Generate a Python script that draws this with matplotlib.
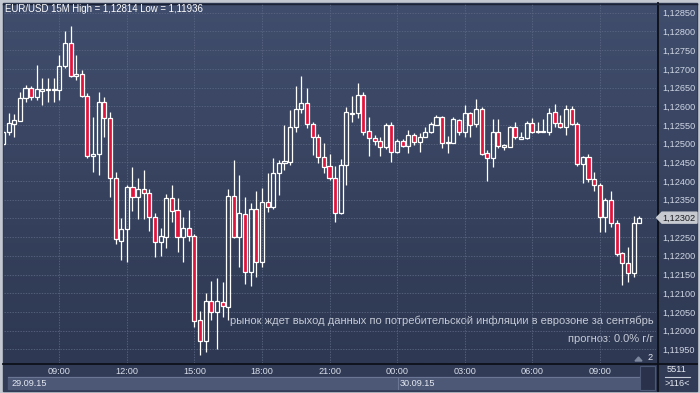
import numpy as np
import matplotlib
matplotlib.use("Agg")
import matplotlib.pyplot as plt
from matplotlib.patches import Rectangle, Polygon

# 15-minute candles, index 0 = 09:00 on 29.09.15
start_idx = -10
opens = [
    1.12498, 1.12530, 1.12552, 1.12561, 1.12621, 1.12648, 1.12624, 1.12642, 1.12643, 1.12644,
    1.12643, 1.12708, 1.12768, 1.12681, 1.12686, 1.12628, 1.12467, 1.12471, 1.12611, 1.12569,
    1.12407, 1.12240, 1.12271, 1.12383, 1.12358, 1.12379, 1.12367, 1.12303, 1.12236, 1.12251,
    1.12354, 1.12322, 1.12249, 1.12274, 1.12252, 1.12028, 1.11973, 1.12080, 1.12049, 1.12077,
    1.12064, 1.12360, 1.12249, 1.12311, 1.12156, 1.12324, 1.12183, 1.12343, 1.12330, 1.12422,
    1.12447, 1.12452, 1.12544, 1.12593, 1.12608, 1.12552, 1.12517, 1.12463, 1.12440, 1.12407,
    1.12314, 1.12443, 1.12580, 1.12581, 1.12629, 1.12535, 1.12514, 1.12508, 1.12492, 1.12550,
    1.12478, 1.12508, 1.12494, 1.12523, 1.12505, 1.12517, 1.12532, 1.12550, 1.12572, 1.12505,
    1.12501, 1.12563, 1.12532, 1.12581, 1.12552, 1.12592, 1.12474, 1.12461, 1.12532, 1.12490,
    1.12490, 1.12544, 1.12513, 1.12514, 1.12554, 1.12534, 1.12532, 1.12532, 1.12585, 1.12554,
    1.12544, 1.12592, 1.12552, 1.12445, 1.12463, 1.12405, 1.12389, 1.12303, 1.12349, 1.12289,
    1.12207, 1.12180, 1.12155, 1.12287,
]
closes = [
    1.12530, 1.12554, 1.12563, 1.12621, 1.12648, 1.12624, 1.12645, 1.12645, 1.12644, 1.12643,
    1.12708, 1.12768, 1.12681, 1.12686, 1.12628, 1.12467, 1.12472, 1.12611, 1.12568, 1.12407,
    1.12244, 1.12271, 1.12383, 1.12358, 1.12379, 1.12367, 1.12303, 1.12236, 1.12252, 1.12354,
    1.12321, 1.12249, 1.12274, 1.12253, 1.12026, 1.11973, 1.12080, 1.12049, 1.12079, 1.12067,
    1.12360, 1.12249, 1.12314, 1.12156, 1.12324, 1.12184, 1.12343, 1.12330, 1.12422, 1.12447,
    1.12453, 1.12544, 1.12593, 1.12608, 1.12552, 1.12517, 1.12463, 1.12438, 1.12407, 1.12314,
    1.12443, 1.12585, 1.12583, 1.12630, 1.12532, 1.12514, 1.12508, 1.12492, 1.12550, 1.12478,
    1.12508, 1.12494, 1.12523, 1.12505, 1.12517, 1.12532, 1.12552, 1.12572, 1.12502, 1.12501,
    1.12565, 1.12532, 1.12581, 1.12550, 1.12592, 1.12471, 1.12461, 1.12532, 1.12494, 1.12496,
    1.12544, 1.12517, 1.12517, 1.12554, 1.12532, 1.12531, 1.12534, 1.12583, 1.12554, 1.12544,
    1.12592, 1.12552, 1.12445, 1.12463, 1.12405, 1.12389, 1.12303, 1.12349, 1.12289, 1.12204,
    1.12180, 1.12155, 1.12287, 1.12302,
]
highs = [
    1.12536, 1.12581, 1.12579, 1.12639, 1.12657, 1.12654, 1.12710, 1.12675, 1.12675, 1.12675,
    1.12737, 1.12801, 1.12814, 1.12737, 1.12697, 1.12635, 1.12572, 1.12639, 1.12625, 1.12585,
    1.12425, 1.12302, 1.12389, 1.12438, 1.12407, 1.12429, 1.12379, 1.12314, 1.12275, 1.12365,
    1.12389, 1.12354, 1.12303, 1.12322, 1.12258, 1.12052, 1.12101, 1.12133, 1.12140, 1.12131,
    1.12379, 1.12456, 1.12416, 1.12358, 1.12340, 1.12374, 1.12381, 1.12422, 1.12461, 1.12456,
    1.12550, 1.12590, 1.12654, 1.12681, 1.12649, 1.12559, 1.12526, 1.12502, 1.12472, 1.12440,
    1.12458, 1.12599, 1.12627, 1.12663, 1.12638, 1.12572, 1.12523, 1.12518, 1.12556, 1.12559,
    1.12512, 1.12512, 1.12536, 1.12529, 1.12528, 1.12545, 1.12559, 1.12577, 1.12574, 1.12520,
    1.12572, 1.12566, 1.12603, 1.12585, 1.12619, 1.12598, 1.12483, 1.12565, 1.12565, 1.12499,
    1.12547, 1.12559, 1.12532, 1.12560, 1.12568, 1.12559, 1.12566, 1.12594, 1.12606, 1.12577,
    1.12603, 1.12601, 1.12558, 1.12467, 1.12472, 1.12425, 1.12395, 1.12355, 1.12374, 1.12296,
    1.12210, 1.12224, 1.12306, 1.12306,
]
lows = [
    1.12494, 1.12523, 1.12518, 1.12560, 1.12612, 1.12617, 1.12617, 1.12603, 1.12612, 1.12612,
    1.12617, 1.12701, 1.12679, 1.12670, 1.12625, 1.12461, 1.12425, 1.12416, 1.12517, 1.12358,
    1.12231, 1.12189, 1.12184, 1.12321, 1.12298, 1.12298, 1.12267, 1.12198, 1.12200, 1.12220,
    1.12290, 1.12211, 1.12184, 1.12240, 1.12009, 1.11936, 1.11942, 1.12028, 1.11951, 1.12037,
    1.12028, 1.12247, 1.12171, 1.12125, 1.12119, 1.12144, 1.12171, 1.12318, 1.12325, 1.12363,
    1.12429, 1.12443, 1.12532, 1.12581, 1.12541, 1.12470, 1.12449, 1.12422, 1.12403, 1.12291,
    1.12312, 1.12389, 1.12559, 1.12568, 1.12523, 1.12467, 1.12496, 1.12467, 1.12485, 1.12452,
    1.12475, 1.12491, 1.12476, 1.12496, 1.12478, 1.12517, 1.12529, 1.12550, 1.12487, 1.12476,
    1.12501, 1.12523, 1.12517, 1.12518, 1.12545, 1.12470, 1.12401, 1.12438, 1.12487, 1.12483,
    1.12490, 1.12512, 1.12512, 1.12512, 1.12528, 1.12528, 1.12530, 1.12523, 1.12545, 1.12542,
    1.12523, 1.12550, 1.12440, 1.12394, 1.12398, 1.12374, 1.12264, 1.12264, 1.12278, 1.12199,
    1.12122, 1.12131, 1.12144, 1.12287,
]

time_ticks = [0, 12, 24, 36, 48, 60, 72, 84, 96]
time_labels = ["09:00", "12:00", "15:00", "18:00", "21:00", "00:00", "03:00", "06:00", "09:00"]
price_levels = [1.11950 + 0.0005 * i for i in range(19)]
last_price = 1.12302

title = "EUR/USD 15M High = 1,12814 Low = 1,11936"
note1 = "рынок ждет выход данных по потребительской инфляции в еврозоне за сентябрь"
note2 = "прогноз: 0.0% г/г"

FONT = ["Liberation Sans", "DejaVu Sans"]
plt.rcParams["font.family"] = FONT

W, H = 700, 393
Y_TOP, Y_BOT = 1.128733, 1.119134
fig = plt.figure(figsize=(W / 100, H / 100), dpi=100)
fig.patch.set_facecolor("#c3c8d1")


def px_box(x0, y0, x1, y1):
    return [x0 / W, 1 - y1 / H, (x1 - x0) / W, (y1 - y0) / H]


# background / frame in pixel coordinates
bg = fig.add_axes([0, 0, 1, 1])
bg.set_xlim(0, W)
bg.set_ylim(H, 0)
bg.axis("off")
bg.add_patch(Rectangle((3, 3), 694, 388, color="#313b56", zorder=0))
grad = np.linspace(0, 1, 256)[:, None]
top_c = np.array([0x40, 0x4d, 0x6c]) / 255
bot_c = np.array([0x2e, 0x38, 0x52]) / 255
img = top_c[None, None, :] * (1 - grad[:, :, None]) + bot_c[None, None, :] * grad[:, :, None]
bg.imshow(img, extent=(4, 657, 363, 4), aspect="auto", zorder=1)
bg.imshow(img, extent=(658, 697, 363, 4), aspect="auto", zorder=1)
bg.plot([657.5, 657.5], [3, 391], color="#0c1018", lw=1.3, zorder=3)
bg.plot([3, 697], [363.5, 363.5], color="#0c1018", lw=1.3, zorder=3)
bg.plot([3, 697], [3.5, 3.5], color="#1c2336", lw=1, zorder=3)

# date strip
bg.add_patch(Rectangle((8, 377), 632, 12, color="#4c5876", zorder=2))
bg.plot([8, 640], [377, 377], color="#6b7694", lw=0.8, zorder=3)
bg.plot([397.5, 397.5], [377, 389], color="#6b7694", lw=0.8, zorder=3)
bg.add_patch(Rectangle((640, 366), 15, 24, facecolor="#29324a", edgecolor="#4c5876", lw=0.8, zorder=3))
bg.text(11, 383.5, "29.09.15", color="#e4e8f0", fontsize=6.6, va="center", ha="left", zorder=4)
bg.text(400, 383.5, "30.09.15", color="#e4e8f0", fontsize=6.6, va="center", ha="left", zorder=4)

# bottom right counters
bg.text(677, 369.5, "5511", color="#e4e8f0", fontsize=6.6, va="center", ha="center", zorder=4)
bg.plot([665, 690], [377, 377], color="#c8ceda", lw=0.8, zorder=4)
bg.text(677, 384, ">116<", color="#e4e8f0", fontsize=6.6, va="center", ha="center", zorder=4)
bg.add_patch(Polygon([(635, 361), (638.5, 357), (642, 361)], color="#7d879e", zorder=4))
bg.text(647, 358, "2", color="#e4e8f0", fontsize=6.6, va="center", ha="left", zorder=4)

# title and notes
bg.text(5, 9, title, color="#ffffff", fontsize=6.9, va="center", ha="left", zorder=5)
bg.text(654, 321, note1, color="#c3c9d5", fontsize=8, va="center", ha="right", zorder=5)
bg.text(654, 339.5, note2, color="#c3c9d5", fontsize=8, va="center", ha="right", zorder=5)

# chart axes
ax = fig.add_axes(px_box(4, 4, 656, 363))
ax.set_facecolor("none")
ax.set_xlim(-9.82, 105.99)
ax.set_ylim(Y_BOT, Y_TOP)
for s in ax.spines.values():
    s.set_visible(False)

ax.set_yticks(price_levels)
ax.set_yticklabels([f"{v:.5f}".replace(".", ",") for v in price_levels])
ax.yaxis.tick_right()
ax.tick_params(axis="y", length=0, pad=4.5, labelsize=6.6, labelcolor="#cfd6e4")
ax.set_xticks(time_ticks)
ax.set_xticklabels(time_labels)
ax.tick_params(axis="x", length=0, pad=3, labelsize=6.6, labelcolor="#d8deea")
ax.grid(True, color="#5a6682", lw=0.6, linestyle=(0, (1.6, 1.6)))
ax.set_axisbelow(True)

o = np.array(opens)
c = np.array(closes)
hi = np.maximum(np.array(highs), np.maximum(o, c))
lo = np.minimum(np.array(lows), np.minimum(o, c))
x = np.arange(start_idx, start_idx + len(o))
body_lo = np.minimum(o, c)
body_hi = np.maximum(o, c)
body_h = np.maximum(body_hi - body_lo, 0.00002)
up = c >= o

ax.vlines(x, body_hi, hi, color="white", lw=0.9, zorder=3)
ax.vlines(x, lo, body_lo, color="white", lw=0.9, zorder=3)
ax.bar(x[up], body_h[up], bottom=body_lo[up], width=0.72, facecolor="none",
       edgecolor="white", lw=0.9, zorder=4)
ax.bar(x[~up], body_h[~up], bottom=body_lo[~up], width=0.72, facecolor="#e3143c",
       edgecolor="white", lw=0.9, zorder=4)

# current price marker, on its own overlay so it covers the tick label
top = fig.add_axes([0, 0, 1, 1])
top.set_xlim(0, W)
top.set_ylim(H, 0)
top.axis("off")
ay = 4 + (Y_TOP - last_price) / (Y_TOP - Y_BOT) * 359
top.add_patch(Polygon([(656.5, ay), (662, ay - 5.5), (697, ay - 5.5), (697, ay + 5.5), (662, ay + 5.5)],
                      color="#c7cad0", zorder=6))
top.text(662, ay + 0.3, f"{last_price:.5f}".replace(".", ","), color="#1b1d22", fontsize=6.6,
         va="center", ha="left", zorder=7)

fig.savefig("out.png", dpi=100, facecolor=fig.get_facecolor())
